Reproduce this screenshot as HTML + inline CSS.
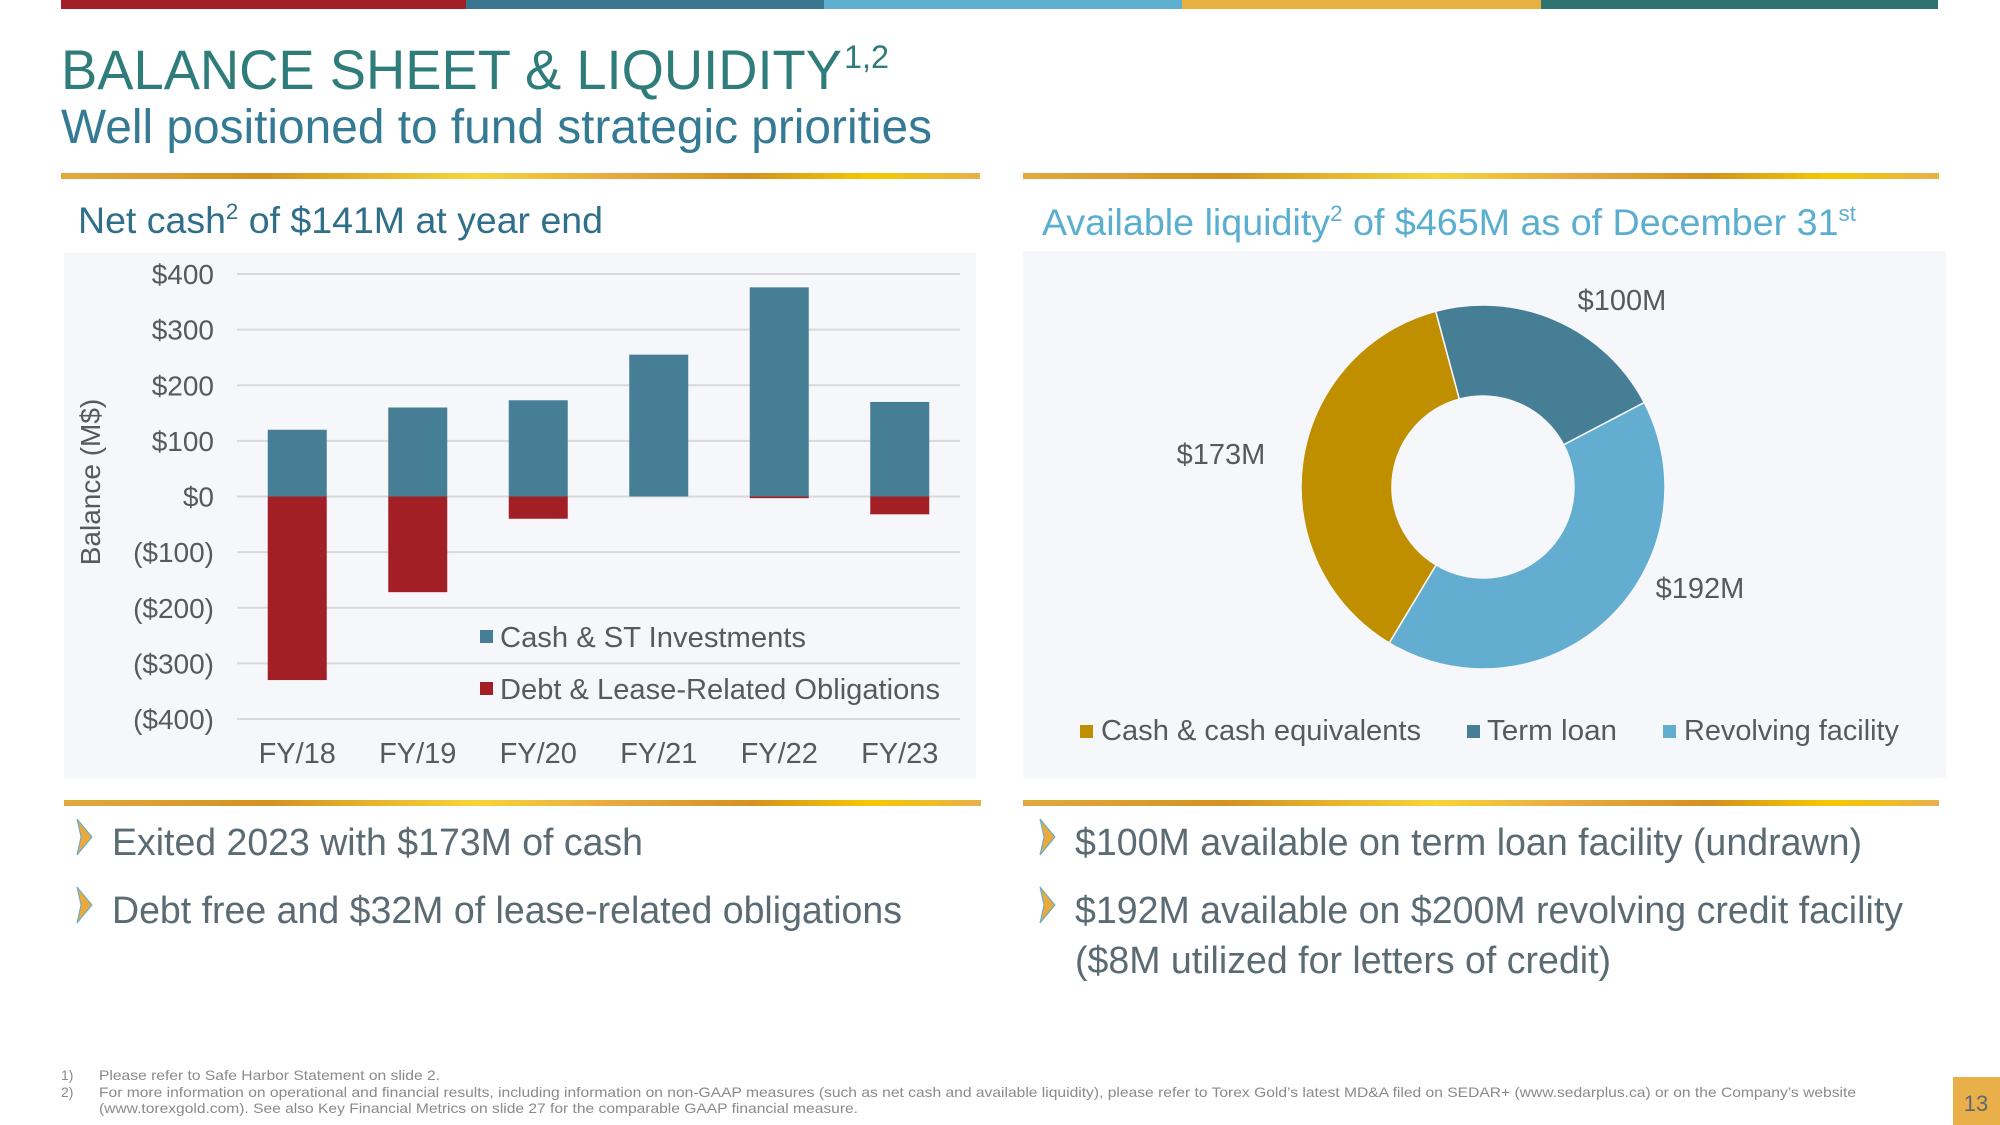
<!DOCTYPE html>
<html><head><meta charset="utf-8"><style>
html,body{margin:0;padding:0;background:#fff;}
svg{display:block;font-family:"Liberation Sans Narrow","Liberation Sans",sans-serif;}
</style></head><body>
<svg id="s" width="2000" height="1125" viewBox="0 0 2000 1125" xmlns="http://www.w3.org/2000/svg">
<defs>
<linearGradient id="gold" x1="0" x2="1" y1="0" y2="0">
<stop offset="0" stop-color="#e2a93e"/><stop offset="0.22" stop-color="#d4921e"/><stop offset="0.45" stop-color="#f7d43a"/><stop offset="0.6" stop-color="#e8a93e"/><stop offset="0.75" stop-color="#d4921e"/><stop offset="0.88" stop-color="#f5c800"/><stop offset="1" stop-color="#e8b04a"/>
</linearGradient>
</defs>
<g>
<rect x="61" y="0" width="405" height="9" fill="#a31f26"/>
<rect x="466" y="0" width="358" height="9" fill="#3a7590"/>
<rect x="824" y="0" width="358" height="9" fill="#5fafd0"/>
<rect x="1182" y="0" width="359" height="9" fill="#e8b040"/>
<rect x="1541" y="0" width="397" height="9" fill="#2e7370"/>
</g>
<text x="61" y="89" font-size="56" fill="#2e7d7a" textLength="781" lengthAdjust="spacingAndGlyphs">BALANCE SHEET &amp; LIQUIDITY</text>
<text x="844" y="68" font-size="32" fill="#2e7d7a" textLength="45" lengthAdjust="spacingAndGlyphs">1,2</text>
<text x="61" y="143" font-size="48" fill="#357a94" textLength="871" lengthAdjust="spacingAndGlyphs">Well positioned to fund strategic priorities</text>

<rect x="61" y="173" width="919" height="6" fill="url(#gold)"/>
<rect x="1023" y="173" width="916" height="6" fill="url(#gold)"/>
<rect x="64" y="800" width="917" height="6" fill="url(#gold)"/>
<rect x="1023" y="800" width="916" height="6" fill="url(#gold)"/>

<text x="78" y="233" font-size="37" fill="#2f6f8a" textLength="525" lengthAdjust="spacingAndGlyphs">Net cash<tspan dy="-14" font-size="22">2</tspan><tspan dy="14"> of $141M at year end</tspan></text>
<text x="1042" y="235" font-size="37" fill="#5aaed0" textLength="814" lengthAdjust="spacingAndGlyphs">Available liquidity<tspan dy="-14" font-size="22">2</tspan><tspan dy="14"> of $465M as of December 31</tspan><tspan dy="-14" font-size="22">st</tspan></text>

<rect x="64" y="253" width="912" height="525" fill="#f5f7fa"/>
<rect x="1023" y="251" width="923" height="527" fill="#f5f7fa"/>

<g id="bars"></g>
<text transform="translate(100,482) rotate(-90)" text-anchor="middle" font-size="28" fill="#595959">Balance (M$)</text>

<g>
<rect x="480" y="630" width="13" height="13" fill="#467f95"/>
<text x="500" y="647" font-size="29" fill="#595959" textLength="306" lengthAdjust="spacingAndGlyphs">Cash &amp; ST Investments</text>
<rect x="480" y="682" width="13" height="13" fill="#a31f26"/>
<text x="500" y="699" font-size="29" fill="#595959" textLength="440" lengthAdjust="spacingAndGlyphs">Debt &amp; Lease-Related Obligations</text>
</g>

<g id="donut"></g>

<g>
<rect x="1080" y="725" width="13" height="13" fill="#bf8f00"/>
<text x="1101" y="740" font-size="29" fill="#595959" textLength="320" lengthAdjust="spacingAndGlyphs">Cash &amp; cash equivalents</text>
<rect x="1467" y="725" width="13" height="13" fill="#467f95"/>
<text x="1487" y="740" font-size="29" fill="#595959" textLength="130" lengthAdjust="spacingAndGlyphs">Term loan</text>
<rect x="1663" y="725" width="13" height="13" fill="#63aed0"/>
<text x="1684" y="740" font-size="29" fill="#595959" textLength="215" lengthAdjust="spacingAndGlyphs">Revolving facility</text>
</g>

<g font-size="38" fill="#5b6b73">
<polygon points="77,819 92,837 77,855 81,837" fill="#e9a93c" stroke="#5aaed0" stroke-width="1"/>
<text x="112" y="855" textLength="531" lengthAdjust="spacingAndGlyphs">Exited 2023 with $173M of cash</text>
<polygon points="77,887 92,905 77,923 81,905" fill="#e9a93c" stroke="#5aaed0" stroke-width="1"/>
<text x="112" y="923" textLength="790" lengthAdjust="spacingAndGlyphs">Debt free and $32M of lease-related obligations</text>
<polygon points="1040,819 1055,837 1040,855 1044,837" fill="#e9a93c" stroke="#5aaed0" stroke-width="1"/>
<text x="1075" y="855" textLength="787" lengthAdjust="spacingAndGlyphs">$100M available on term loan facility (undrawn)</text>
<polygon points="1040,887 1055,905 1040,923 1044,905" fill="#e9a93c" stroke="#5aaed0" stroke-width="1"/>
<text x="1075" y="923" textLength="828" lengthAdjust="spacingAndGlyphs">$192M available on $200M revolving credit facility</text>
<text x="1075" y="973" textLength="536" lengthAdjust="spacingAndGlyphs">($8M utilized for letters of credit)</text>
</g>

<g font-size="14" fill="#8a8a8a">
<text x="61" y="1080">1)</text>
<text x="99" y="1080" textLength="341" lengthAdjust="spacingAndGlyphs">Please refer to Safe Harbor Statement on slide 2.</text>
<text x="61" y="1097">2)</text>
<text x="99" y="1097" textLength="1757" lengthAdjust="spacingAndGlyphs">For more information on operational and financial results, including information on non-GAAP measures (such as net cash and available liquidity), please refer to Torex Gold’s latest MD&amp;A filed on SEDAR+ (www.sedarplus.ca) or on the Company’s website</text>
<text x="99" y="1113" textLength="759" lengthAdjust="spacingAndGlyphs">(www.torexgold.com). See also Key Financial Metrics on slide 27 for the comparable GAAP financial measure.</text>
</g>
<rect x="1953" y="1077" width="47" height="48" fill="#e9b04a"/>
<text x="1976" y="1111" text-anchor="middle" font-family="Liberation Sans, sans-serif" font-size="22" fill="#5a6a72">13</text>
</svg>
<script>
const categories = ["FY/18","FY/19","FY/20","FY/21","FY/22","FY/23"];
const cashValues = [120, 160, 173, 255, 376, 170];
const debtValues = [-330, -172, -40, 0, -3, -32];
const yTicks = [400, 300, 200, 100, 0, -100, -200, -300, -400];
const yTickLabels = ["$400","$300","$200","$100","$0","($100)","($200)","($300)","($400)"];
const donutLabels = ["Cash & cash equivalents","Term loan","Revolving facility"];
const donutValues = [173, 100, 192];
const donutValueLabels = ["$173M","$100M","$192M"];

const NS = "http://www.w3.org/2000/svg";
function mk(tag, attrs, parent){ const e=document.createElementNS(NS,tag); for(const k in attrs) e.setAttribute(k,attrs[k]); parent.appendChild(e); return e; }

// bar chart axes
const plotL=237, plotR=960, yTop=274, yBot=719, vMax=400, vMin=-400;
function y(v){ return yTop + (vMax - v)/(vMax - vMin)*(yBot - yTop); }
const band=(plotR-plotL)/categories.length;
function xc(i){ return plotL + band*(i+0.5); }
const barW=59;
const bars=document.getElementById('bars');
yTicks.forEach((t,i)=>{
  const l=mk('line',{x1:plotL,x2:plotR,y1:y(t),y2:y(t),stroke:'#d9d9d9','stroke-width':2},bars);
  
  
  const tx=mk('text',{x:214,y:y(t)+10,'text-anchor':'end','font-size':28,fill:'#595959'},bars);
  tx.textContent=yTickLabels[i];
  
  
});
categories.forEach((c,i)=>{
  const cv=cashValues[i], dv=debtValues[i];
  const r1=mk('rect',{x:xc(i)-barW/2,y:y(cv),width:barW,height:y(0)-y(cv),fill:'#467f95'},bars);
  
  
  const r2=mk('rect',{x:xc(i)-barW/2,y:y(0),width:barW,height:y(dv)-y(0),fill:'#a31f26'},bars);
  
  
  const tx=mk('text',{x:xc(i),y:763,'text-anchor':'middle','font-size':29,fill:'#595959'},bars);
  tx.textContent=c;
  
  
});

// donut
const cx=1483, cy=487, R=182, r=91;
const colors=['#bf8f00','#467f95','#63aed0'];
const total=donutValues.reduce((a,b)=>a+b,0);
let ang = 211 - 360; // cash starts at 211deg (clockwise from top)
const donut=document.getElementById('donut');
const labelPos=[[1221,464],[1622,310],[1700,598]];
function pt(a,rad){ const t=(a-90)*Math.PI/180; return [cx+rad*Math.cos(t), cy+rad*Math.sin(t)]; }
donutValues.forEach((v,i)=>{
  const a0=ang, a1=ang+v/total*360; ang=a1;
  const large=(a1-a0)>180?1:0;
  const p0=pt(a0,R),p1=pt(a1,R),q1=pt(a1,r),q0=pt(a0,r);
  const d=`M${p0[0]},${p0[1]} A${R},${R} 0 ${large} 1 ${p1[0]},${p1[1]} L${q1[0]},${q1[1]} A${r},${r} 0 ${large} 0 ${q0[0]},${q0[1]} Z`;
  const p=mk('path',{d:d,fill:colors[i],stroke:'#f5f7fa','stroke-width':1.5},donut);
  
  
  const tx=mk('text',{x:labelPos[i][0],y:labelPos[i][1],'text-anchor':'middle','font-size':29,fill:'#595959'},donut);
  tx.textContent=donutValueLabels[i];
  
  
});
</script>
</body></html>
